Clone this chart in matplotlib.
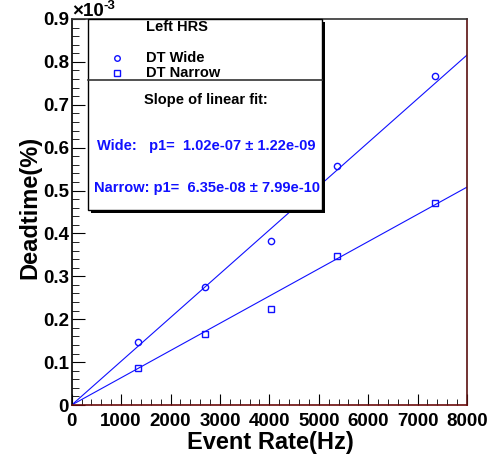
import matplotlib

matplotlib.use("Agg")
import matplotlib.pyplot as plt
import numpy as np
from matplotlib.patches import Rectangle
from matplotlib.lines import Line2D
from matplotlib.ticker import MultipleLocator, FuncFormatter

rate_hz = [1350, 2705, 4040, 5370, 7360]
dt_wide = [0.146e-3, 0.274e-3, 0.382e-3, 0.557e-3, 0.767e-3]
dt_narrow = [0.087e-3, 0.165e-3, 0.225e-3, 0.347e-3, 0.472e-3]

# Slopes of the linear fits (through origin)
p1_wide, p1_wide_err = 1.02e-07, 1.22e-09
p1_narrow, p1_narrow_err = 6.35e-08, 7.99e-10

W, H = 498, 463
BLUE = "#1010ff"
plt.rcParams["font.family"] = ["Liberation Sans", "DejaVu Sans"]
plt.rcParams["font.weight"] = "bold"

fig = plt.figure(figsize=(W / 100, H / 100), dpi=100)
ax = fig.add_axes([71.7 / W, 1 - 405 / H, (467 - 71.7) / W, (405 - 19) / H])


def px(x, y):
    return x / W, 1 - y / H


scale = 1e3
ax.plot(rate_hz, np.array(dt_wide) * scale, "o", mfc="none", mec=BLUE, ms=4.5, mew=1)
ax.plot(rate_hz, np.array(dt_narrow) * scale, "s", mfc="none", mec=BLUE, ms=5, mew=1)
xfit = np.array([0, 8000])
ax.plot(xfit, p1_wide * xfit * scale, color=BLUE, lw=0.8)
ax.plot(xfit, p1_narrow * xfit * scale, color=BLUE, lw=0.8)

ax.set_xlim(0, 8000)
ax.set_ylim(0, 0.9)
ax.xaxis.set_major_locator(MultipleLocator(1000))
ax.xaxis.set_minor_locator(MultipleLocator(200))
ax.yaxis.set_major_locator(MultipleLocator(0.1))
ax.yaxis.set_minor_locator(MultipleLocator(0.02))
ax.yaxis.set_major_formatter(FuncFormatter(lambda v, p: f"{v:g}"))
ax.tick_params(which="both", direction="in", top=False, right=False, labelsize=13.5)
ax.tick_params(axis="x", which="major", length=8, pad=6)
ax.tick_params(axis="x", which="minor", length=4)
ax.tick_params(axis="y", which="major", length=9, pad=2)
ax.tick_params(axis="y", which="minor", length=5)
for lab in ax.get_xticklabels() + ax.get_yticklabels():
    lab.set_fontweight("bold")

ax.spines["left"].set_color("black")
ax.spines["top"].set_color("#333333")
ax.spines["right"].set_color("#5a1010")
ax.spines["bottom"].set_color("#6a0a0a")
for s in ax.spines.values():
    s.set_linewidth(1.2)

fig.text(*px(270, 443), "Event Rate(Hz)", ha="center", va="center", fontsize=17, fontweight="bold")
fig.text(*px(30, 207), "Deadtime(%)", ha="center", va="center", rotation=90, fontsize=17, fontweight="bold")
fig.text(*px(72, 11), "\u00d710", ha="left", va="center", fontsize=13.5, fontweight="bold")
fig.text(*px(104, 6), "-3", ha="left", va="center", fontsize=9.5, fontweight="bold")

# legend box with shadow
x0, y0, x1, y1 = 88, 19, 322, 210
fig.patches.append(Rectangle(px(x0 + 3, y1 + 3), (x1 - x0) / W, (y1 - y0) / H,
                             transform=fig.transFigure, fc="black", ec="none", zorder=5))
fig.patches.append(Rectangle(px(x0, y1), (x1 - x0) / W, (y1 - y0) / H,
                             transform=fig.transFigure, fc="white", ec="black", lw=1, zorder=6))
fig.lines.append(Line2D([x0 / W, x1 / W], [1 - 80 / H, 1 - 80 / H],
                        transform=fig.transFigure, color="#333333", lw=1.2, zorder=7))

fs = 10.5
fig.text(*px(146, 27), "Left HRS", ha="left", va="center", fontsize=fs, fontweight="bold", zorder=8)
fig.lines.append(Line2D([117 / W], [1 - 58 / H], transform=fig.transFigure, marker="o",
                        mfc="none", mec=BLUE, ms=4, mew=1, zorder=8))
fig.text(*px(146, 58), "DT Wide", ha="left", va="center", fontsize=fs, fontweight="bold", zorder=8)
fig.lines.append(Line2D([117 / W], [1 - 73 / H], transform=fig.transFigure, marker="s",
                        mfc="none", mec=BLUE, ms=4.5, mew=1, zorder=8))
fig.text(*px(146, 73), "DT Narrow", ha="left", va="center", fontsize=fs, fontweight="bold", zorder=8)
fig.text(*px(144, 100), "Slope of linear fit:", ha="left", va="center", fontsize=fs, fontweight="bold", zorder=8)
fig.text(*px(97, 146), f"Wide:   p1=  {p1_wide:.2e} \u00b1 {p1_wide_err:.2e}",
         ha="left", va="center", fontsize=fs, fontweight="bold", color=BLUE, zorder=8)
fig.text(*px(94, 188), f"Narrow: p1=  {p1_narrow:.2e} \u00b1 {p1_narrow_err:.2e}",
         ha="left", va="center", fontsize=fs, fontweight="bold", color=BLUE, zorder=8)

fig.savefig("out.png", dpi=100)
